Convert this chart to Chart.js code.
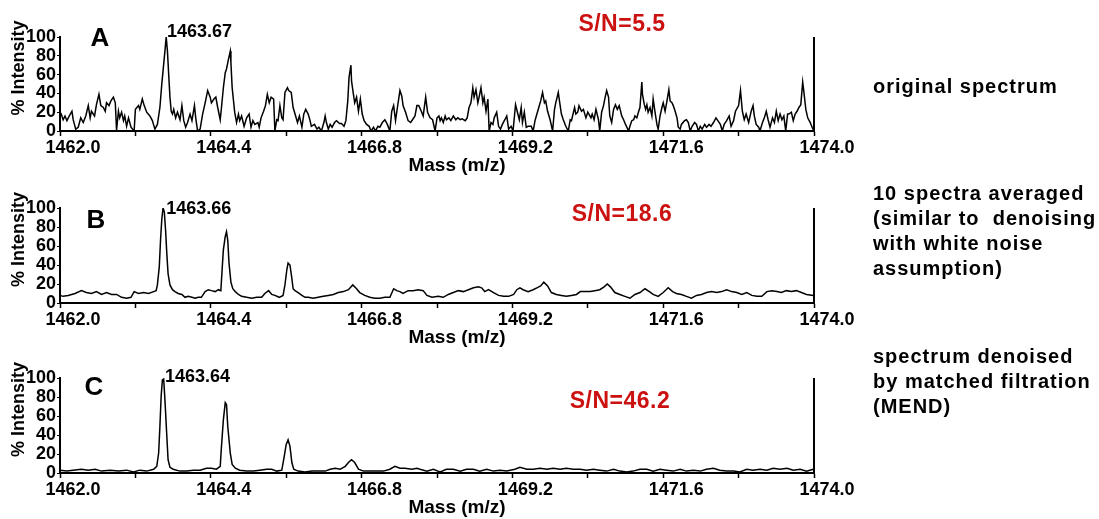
<!DOCTYPE html>
<html>
<head>
<meta charset="utf-8">
<script src="https://cdn.jsdelivr.net/npm/chart.js@4.4.1/dist/chart.umd.min.js"></script>
<style>
  html, body { margin: 0; padding: 0; background: #fff; }
  body { width: 1099px; height: 519px; position: relative; overflow: hidden; font-family: "Liberation Sans", Arial, sans-serif; }
  canvas { position: absolute; left: 0; }
  .note { position: absolute; left: 873px; font-weight: bold; font-size: 20px; letter-spacing: 1px; line-height: 25px; white-space: pre; color: #000; }
</style>
</head>
<body>
<canvas id="chartA" width="1099" height="175" style="top:0px"></canvas>
<canvas id="chartB" width="1099" height="176" style="top:171px"></canvas>
<canvas id="chartC" width="1099" height="176" style="top:341px"></canvas>
<div class="note" style="top:74px">original spectrum</div>
<div class="note" style="top:181px">10 spectra averaged
(similar to  denoising
with white noise
assumption)</div>
<div class="note" style="top:344px">spectrum denoised
by matched filtration
(MEND)</div>
<script>
// A: original spectrum (mass, % intensity)
const massA = [
  1462.00,1462.02,1462.05,1462.08,1462.11,1462.14,1462.19,1462.21,1462.25,1462.29,
  1462.33,1462.37,1462.41,1462.45,1462.48,1462.50,1462.55,1462.58,1462.62,1462.65,
  1462.69,1462.72,1462.74,1462.78,1462.81,1462.85,1462.88,1462.90,1462.93,1462.95,
  1462.98,1463.01,1463.03,1463.06,1463.09,1463.13,1463.18,1463.20,1463.25,1463.27,
  1463.31,1463.34,1463.38,1463.43,1463.47,1463.51,1463.55,1463.59,1463.62,1463.64,
  1463.67,1463.69,1463.71,1463.73,1463.75,1463.77,1463.79,1463.81,1463.84,1463.87,
  1463.91,1463.94,1463.97,1464.00,1464.03,1464.07,1464.10,1464.14,1464.16,1464.19,
  1464.23,1464.27,1464.31,1464.35,1464.39,1464.41,1464.45,1464.48,1464.51,1464.55,
  1464.57,1464.60,1464.63,1464.65,1464.68,1464.71,1464.72,1464.74,1464.78,1464.81,
  1464.84,1464.86,1464.89,1464.93,1464.97,1465.01,1465.04,1465.07,1465.10,1465.15,
  1465.17,1465.20,1465.24,1465.27,1465.30,1465.33,1465.36,1465.40,1465.42,1465.45,
  1465.47,1465.50,1465.53,1465.55,1465.58,1465.62,1465.64,1465.68,1465.71,1465.75,
  1465.78,1465.81,1465.85,1465.88,1465.91,1465.95,1465.98,1466.00,1466.05,1466.09,
  1466.12,1466.16,1466.20,1466.22,1466.24,1466.27,1466.30,1466.33,1466.37,1466.40,
  1466.45,1466.48,1466.52,1466.55,1466.58,1466.60,1466.63,1466.64,1466.67,1466.69,
  1466.72,1466.75,1466.78,1466.81,1466.84,1466.88,1466.92,1466.95,1466.99,1467.02,
  1467.06,1467.09,1467.13,1467.17,1467.21,1467.25,1467.28,1467.31,1467.34,1467.37,
  1467.41,1467.44,1467.46,1467.50,1467.54,1467.58,1467.61,1467.65,1467.68,1467.71,
  1467.75,1467.78,1467.82,1467.85,1467.89,1467.93,1467.97,1468.00,1468.03,1468.05,
  1468.07,1468.10,1468.13,1468.15,1468.19,1468.22,1468.26,1468.30,1468.33,1468.37,
  1468.40,1468.45,1468.48,1468.51,1468.54,1468.57,1468.59,1468.62,1468.65,1468.67,
  1468.70,1468.73,1468.75,1468.78,1468.81,1468.83,1468.86,1468.89,1468.91,1468.95,
  1468.98,1469.01,1469.04,1469.08,1469.11,1469.14,1469.18,1469.21,1469.25,1469.28,
  1469.31,1469.34,1469.36,1469.39,1469.42,1469.45,1469.50,1469.53,1469.56,1469.59,
  1469.62,1469.65,1469.68,1469.71,1469.73,1469.76,1469.80,1469.84,1469.87,1469.89,
  1469.93,1469.96,1469.98,1470.01,1470.05,1470.09,1470.12,1470.14,1470.19,1470.21,
  1470.24,1470.26,1470.30,1470.33,1470.37,1470.40,1470.45,1470.47,1470.50,1470.53,
  1470.57,1470.59,1470.62,1470.65,1470.67,1470.70,1470.73,1470.75,1470.78,1470.81,
  1470.84,1470.87,1470.90,1470.94,1470.97,1471.00,1471.05,1471.07,1471.10,1471.13,
  1471.15,1471.18,1471.21,1471.23,1471.26,1471.27,1471.30,1471.32,1471.34,1471.36,
  1471.39,1471.42,1471.44,1471.47,1471.50,1471.52,1471.55,1471.58,1471.60,1471.63,
  1471.66,1471.69,1471.71,1471.74,1471.76,1471.79,1471.82,1471.84,1471.87,1471.89,
  1471.94,1471.97,1472.00,1472.03,1472.06,1472.10,1472.13,1472.16,1472.19,1472.22,
  1472.26,1472.29,1472.33,1472.36,1472.40,1472.44,1472.47,1472.51,1472.54,1472.57,
  1472.61,1472.65,1472.68,1472.72,1472.75,1472.80,1472.83,1472.86,1472.89,1472.92,
  1472.96,1473.00,1473.03,1473.05,1473.08,1473.12,1473.14,1473.18,1473.21,1473.24,
  1473.27,1473.30,1473.34,1473.37,1473.40,1473.43,1473.46,1473.49,1473.52,1473.55,
  1473.58,1473.60,1473.64,1473.67,1473.70,1473.73,1473.76,1473.79,1473.82,1473.84,
  1473.87,1473.90,1473.94,1473.97,1474.00
];
const intensityA = [
  20,18,12,16,11,15,21,12,2,4,
  14,9,16,27,14,21,16,28,39,27,
  25,21,30,27,32,36,30,1,21,14,
  20,11,16,5,14,4,0,23,27,23,
  34,27,20,16,11,2,7,25,50,64,
  85,100,85,60,36,21,18,23,14,20,
  12,27,11,4,9,18,11,27,14,0,
  2,18,30,43,36,30,34,36,25,12,
  25,46,62,66,76,85,73,46,20,9,
  18,11,16,5,14,18,4,11,7,9,
  4,14,21,27,39,30,36,34,0,12,
  11,27,14,12,41,46,43,41,25,16,
  9,16,4,18,23,18,11,5,7,2,
  4,0,9,16,9,2,7,4,9,11,
  8,8,5,11,32,57,70,53,39,30,
  36,21,34,18,11,7,5,0,4,0,
  5,4,9,12,7,0,21,27,11,25,
  43,37,27,20,11,9,12,16,27,27,
  21,16,36,20,14,12,0,14,16,11,
  14,9,16,12,14,11,16,12,14,12,
  13,11,14,25,30,46,36,44,30,36,
  46,30,36,21,34,0,9,7,14,20,
  5,2,7,12,16,2,5,0,28,20,
  12,25,9,20,4,5,5,0,11,18,
  25,32,41,30,32,21,12,0,23,30,
  41,27,18,12,5,0,12,11,25,18,
  20,27,21,23,14,20,14,18,12,23,
  12,0,20,27,34,43,36,16,9,23,
  28,23,27,16,12,7,0,5,11,12,
  16,14,21,25,52,39,28,23,28,20,
  25,16,34,20,7,2,16,25,30,21,
  32,44,32,30,27,21,14,4,2,7,
  11,12,9,0,5,9,7,0,5,2,
  7,4,7,5,9,14,11,7,0,7,
  11,16,5,11,21,27,43,21,12,18,
  9,21,27,16,7,4,0,9,14,21,
  12,4,14,9,21,11,18,12,16,0,
  18,18,20,11,18,21,25,28,52,41,
  23,14,9,4,0
];

// B: 10 spectra averaged
const massB = [
  1462.00,1462.05,1462.13,1462.24,1462.34,1462.42,1462.50,1462.58,1462.66,1462.74,
  1462.82,1462.90,1462.98,1463.06,1463.13,1463.18,1463.25,1463.33,1463.41,1463.49,
  1463.53,1463.55,1463.58,1463.60,1463.62,1463.64,1463.66,1463.68,1463.70,1463.72,
  1463.75,1463.79,1463.83,1463.88,1463.94,1463.99,1464.04,1464.10,1464.15,1464.20,
  1464.25,1464.31,1464.36,1464.41,1464.47,1464.52,1464.56,1464.58,1464.60,1464.63,
  1464.65,1464.67,1464.69,1464.72,1464.75,1464.79,1464.84,1464.89,1464.97,1465.05,
  1465.13,1465.21,1465.26,1465.32,1465.37,1465.42,1465.49,1465.55,1465.58,1465.61,
  1465.63,1465.66,1465.69,1465.71,1465.74,1465.79,1465.85,1465.90,1465.95,1466.03,
  1466.11,1466.19,1466.27,1466.35,1466.43,1466.51,1466.59,1466.66,1466.72,1466.77,
  1466.85,1466.93,1467.01,1467.09,1467.17,1467.25,1467.31,1467.36,1467.41,1467.46,
  1467.54,1467.62,1467.70,1467.78,1467.84,1467.92,1468.02,1468.10,1468.18,1468.26,
  1468.34,1468.42,1468.50,1468.58,1468.66,1468.71,1468.76,1468.82,1468.90,1468.98,
  1469.06,1469.14,1469.22,1469.27,1469.32,1469.37,1469.45,1469.53,1469.59,1469.65,
  1469.70,1469.76,1469.82,1469.90,1469.98,1470.06,1470.14,1470.22,1470.28,1470.35,
  1470.44,1470.51,1470.59,1470.66,1470.71,1470.76,1470.83,1470.91,1470.99,1471.07,
  1471.15,1471.23,1471.31,1471.38,1471.44,1471.52,1471.60,1471.68,1471.75,1471.81,
  1471.89,1471.97,1472.05,1472.13,1472.21,1472.29,1472.37,1472.45,1472.53,1472.61,
  1472.69,1472.77,1472.85,1472.93,1473.01,1473.09,1473.17,1473.25,1473.33,1473.41,
  1473.48,1473.56,1473.64,1473.72,1473.80,1473.88,1473.99
];
const intensityB = [
  8,7,8,10,13,11,10,12,9,11,
  9,9,6,5,6,12,10,11,10,12,
  13,19,38,66,88,100,96,77,52,31,
  19,14,12,10,9,6,7,6,5,6,
  6,12,14,13,12,14,13,35,56,70,
  75,66,42,22,15,12,9,7,6,5,
  6,6,10,13,9,8,6,8,19,35,
  42,40,26,15,13,11,8,6,6,5,
  6,7,8,9,11,12,14,19,15,11,
  8,6,5,5,6,6,15,13,12,10,
  13,13,14,13,8,6,7,6,9,11,
  13,12,14,16,17,16,12,14,11,8,
  7,7,9,14,16,14,12,14,16,18,
  22,18,11,9,8,7,8,9,12,12,
  12,13,14,17,20,17,11,9,7,5,
  9,11,15,12,9,7,11,16,12,10,
  9,7,5,8,9,11,12,11,12,14,
  12,11,9,11,8,7,7,12,13,12,
  11,13,12,13,11,9,8
];

// C: denoised by matched filtration (MEND)
const massC = [
  1462.00,1462.11,1462.21,1462.34,1462.45,1462.56,1462.66,1462.80,1462.93,1463.06,
  1463.17,1463.27,1463.38,1463.49,1463.54,1463.57,1463.59,1463.61,1463.63,1463.65,
  1463.67,1463.70,1463.72,1463.75,1463.80,1463.91,1464.02,1464.12,1464.23,1464.33,
  1464.41,1464.49,1464.55,1464.57,1464.60,1464.63,1464.65,1464.67,1464.71,1464.74,
  1464.79,1464.86,1464.97,1465.08,1465.18,1465.29,1465.37,1465.45,1465.53,1465.56,
  1465.60,1465.63,1465.66,1465.69,1465.72,1465.79,1465.90,1466.01,1466.11,1466.22,
  1466.30,1466.38,1466.46,1466.54,1466.59,1466.64,1466.69,1466.75,1466.83,1466.93,
  1467.04,1467.15,1467.25,1467.33,1467.41,1467.49,1467.60,1467.68,1467.73,1467.84,
  1467.94,1468.05,1468.15,1468.26,1468.37,1468.47,1468.58,1468.68,1468.79,1468.90,
  1469.00,1469.11,1469.24,1469.32,1469.43,1469.53,1469.64,1469.75,1469.85,1469.96,
  1470.06,1470.17,1470.28,1470.38,1470.49,1470.59,1470.70,1470.81,1470.91,1471.02,
  1471.12,1471.23,1471.34,1471.44,1471.55,1471.65,1471.76,1471.87,1471.97,1472.08,
  1472.19,1472.29,1472.40,1472.50,1472.61,1472.72,1472.82,1472.93,1473.03,1473.14,
  1473.25,1473.35,1473.46,1473.57,1473.67,1473.78,1473.88,1473.99
];
const intensityC = [
  3,2,3,4,3,4,2,3,2,3,
  1,3,2,4,7,21,49,81,98,99,
  77,39,14,6,4,2,2,3,3,5,
  5,4,7,28,56,74,72,49,21,9,
  5,3,2,2,3,4,4,2,3,14,
  30,35,28,11,4,2,1,2,2,2,
  4,5,4,7,11,14,11,4,2,2,
  2,2,4,7,5,5,4,5,4,2,
  4,1,4,4,2,4,4,2,4,2,
  3,2,4,6,4,4,5,4,5,4,
  5,4,4,3,4,3,2,4,2,1,
  2,4,4,2,4,3,2,4,2,3,
  2,4,5,3,2,2,1,4,3,4,
  3,5,4,5,3,4,2,4
];

const panelLetters = ["A", "B", "C"];
const peakMasses = [1463.67, 1463.66, 1463.64];
const peakLabels = ["1463.67", "1463.66", "1463.64"];
const snLabels = ["S/N=5.5", "S/N=18.6", "S/N=46.2"];

const FONT = '"Liberation Sans", Arial, sans-serif';

// text placement per panel, relative to the plot area
const panelLayout = [
  { letterDx: 40, letterDy: 2, peakDy: -5, snX: 622, snDy: -12 },
  { letterDx: 36, letterDy: 13, peakDy: 1, snX: 622, snDy: 7 },
  { letterDx: 34, letterDy: 10, peakDy: -1, snX: 620, snDy: 24 },
];

const panelText = {
  id: "panelText",
  afterDraw(chart, args, o) {
    const { ctx, chartArea: a } = chart;
    const x = chart.scales.x;
    ctx.save();
    // right frame line at 1474.0
    ctx.strokeStyle = "#000";
    ctx.lineWidth = 2;
    ctx.beginPath();
    ctx.moveTo(a.right, a.top);
    ctx.lineTo(a.right, a.bottom);
    ctx.stroke();

    ctx.fillStyle = "#000";
    ctx.textBaseline = "middle";
    ctx.textAlign = "center";
    ctx.font = "bold 26px " + FONT;
    ctx.fillText(o.letter, a.left + o.letterDx, a.top + o.letterDy);

    ctx.textAlign = "left";
    ctx.font = "bold 18px " + FONT;
    ctx.fillText(o.peakText, x.getPixelForValue(o.peakMass) + 2, a.top + o.peakDy);

    ctx.fillStyle = "#cc1111";
    ctx.textAlign = "center";
    ctx.font = "bold 23px " + FONT;
    ctx.letterSpacing = "0.5px";
    ctx.fillText(o.sn, o.snX, a.top + o.snDy);
    ctx.letterSpacing = "0px";

    // axis titles
    ctx.fillStyle = "#000";
    ctx.font = "bold 19px " + FONT;
    ctx.fillText("Mass (m/z)", 457, a.bottom + 35);
    ctx.translate(19, (a.top + a.bottom) / 2 - 16);
    ctx.rotate(-Math.PI / 2);
    ctx.font = "bold 18px " + FONT;
    ctx.fillText("% Intensity", 0, 0);
    ctx.restore();
  },
};

function spectrumChart(canvasId, masses, values, i) {
  const ctx = document.getElementById(canvasId).getContext("2d");
  return new Chart(ctx, {
    type: "line",
    data: {
      datasets: [
        {
          data: masses.map((m, k) => ({ x: m, y: values[k] })),
          borderColor: "#000",
          borderWidth: 1.5,
          pointRadius: 0,
          tension: 0,
          fill: false,
        },
      ],
    },
    options: {
      responsive: false,
      animation: false,
      devicePixelRatio: 1,
      layout: { padding: { top: 37, right: 285, left: 0, bottom: 0 } },
      plugins: {
        legend: { display: false },
        tooltip: { enabled: false },
        panelText: {
          letter: panelLetters[i],
          peakMass: peakMasses[i],
          peakText: peakLabels[i],
          sn: snLabels[i],
          ...panelLayout[i],
        },
      },
      scales: {
        x: {
          type: "linear",
          min: 1462,
          max: 1474,
          afterFit: (s) => { s.height = 44; },
          ticks: {
            stepSize: 1.2,
            autoSkip: false,
            maxRotation: 0,
            labelOffset: 13,
            padding: 1,
            color: "#000",
            font: { family: FONT, weight: "bold", size: 18 },
            callback: (v, k) => (k % 2 === 0 ? v.toFixed(1) : ""),
          },
          grid: { drawOnChartArea: false, tickLength: 5, tickColor: "#000", tickWidth: 1.5 },
          border: { color: "#000", width: 2 },
        },
        y: {
          min: 0,
          max: 100,
          afterFit: (s) => { s.width = 60; },
          ticks: {
            stepSize: 20,
            autoSkip: false,
            padding: 1,
            color: "#000",
            font: { family: FONT, weight: "bold", size: 18 },
          },
          grid: { drawOnChartArea: false, tickLength: 3, tickColor: "#000" },
          border: { color: "#000", width: 2 },
        },
      },
    },
    plugins: [panelText],
  });
}

spectrumChart("chartA", massA, intensityA, 0);
spectrumChart("chartB", massB, intensityB, 1);
spectrumChart("chartC", massC, intensityC, 2);
</script>
</body>
</html>
